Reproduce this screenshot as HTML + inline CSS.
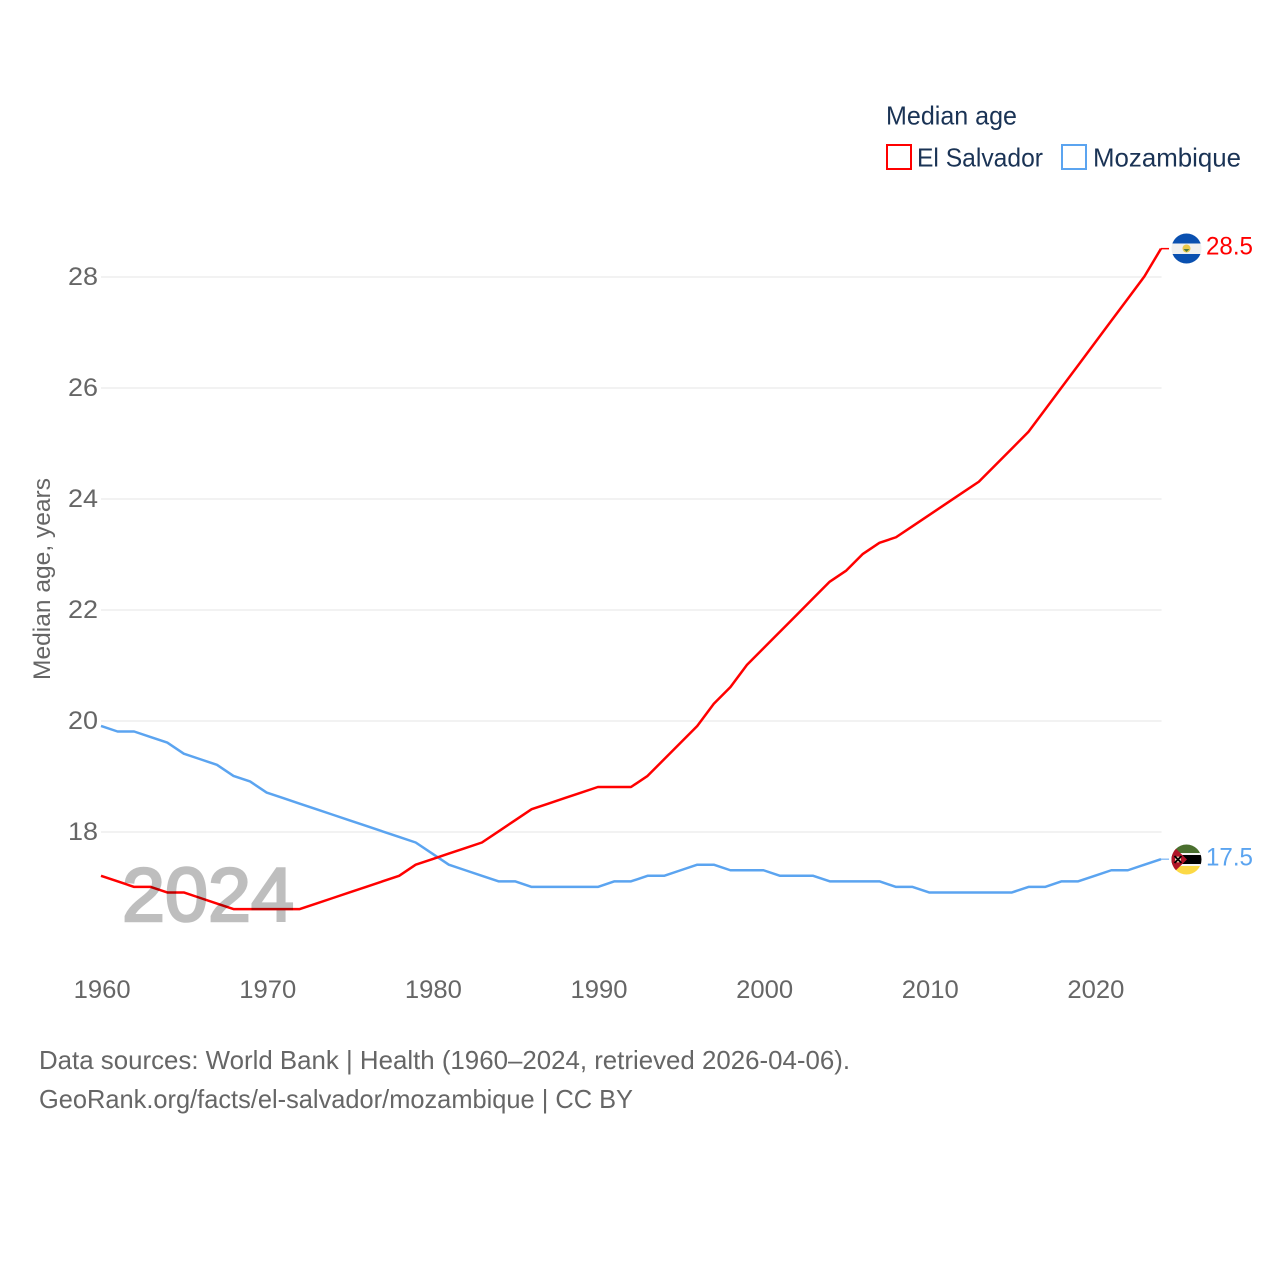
<!DOCTYPE html>
<html lang="en">
<head>
<meta charset="utf-8">
<title>Median age: El Salvador and Mozambique</title>
<style>
html,body{margin:0;padding:0;background:#fff;width:1280px;height:1280px;overflow:hidden}
svg{display:block;font-family:"Liberation Sans",sans-serif}
</style>
</head>
<body>
<svg id="chart" xmlns="http://www.w3.org/2000/svg" width="1280" height="1280" viewBox="0 0 1280 1280">
  <defs>
    <clipPath id="clip-sv"><circle cx="1186.5" cy="248.5" r="15"/></clipPath>
    <clipPath id="clip-mz"><circle cx="1186.5" cy="859.5" r="15"/></clipPath>
  </defs>
  <rect width="1280" height="1280" fill="#fff"/>

  <g id="grid"></g>
  <g id="y-labels"></g>
  <g id="x-labels"></g>
  <text transform="translate(50,680) rotate(-90)" font-size="24" fill="#666" textLength="202" lengthAdjust="spacingAndGlyphs">Median age, years</text>

  <g id="series" transform="translate(0,-0.6)"></g>

  <text id="year-watermark" x="122" y="921" font-size="76" fill="#000" stroke="#000" stroke-width="2.6" opacity="0.25" textLength="172" lengthAdjust="spacingAndGlyphs">2024</text>

  <g>
    <text x="886" y="124.5" font-size="26" fill="#1a3355" textLength="131" lengthAdjust="spacingAndGlyphs">Median age</text>
    <g>
      <rect x="887" y="145" width="24" height="24" fill="none" stroke="#ff0000" stroke-width="2"/>
      <text x="917" y="166.5" font-size="26" fill="#1a3355" textLength="126" lengthAdjust="spacingAndGlyphs">El Salvador</text>
    </g>
    <g>
      <rect x="1062" y="145" width="24" height="24" fill="none" stroke="#5ba4f0" stroke-width="2"/>
      <text x="1093" y="166.5" font-size="26" fill="#1a3355" textLength="148" lengthAdjust="spacingAndGlyphs">Mozambique</text>
    </g>
  </g>

  <g clip-path="url(#clip-sv)">
    <rect x="1171" y="233" width="31" height="31" fill="#f0f0f0"/>
    <rect x="1171" y="233" width="31" height="10.5" fill="#0a50b0"/>
    <rect x="1171" y="254" width="31" height="10.5" fill="#0a50b0"/>
    <circle cx="1186.5" cy="248.5" r="4" fill="#e8c84a"/>
    <path d="M1183.5 249h6l-3 3z" fill="#4f7a3a"/>
  </g>

  <g clip-path="url(#clip-mz)">
    <rect x="1171" y="844" width="31" height="10" fill="#4a6f2e"/>
    <rect x="1171" y="854" width="31" height="11" fill="#000"/>
    <rect x="1171" y="853" width="31" height="2" fill="#f4f4f4"/>
    <rect x="1171" y="864" width="31" height="2" fill="#f4f4f4"/>
    <rect x="1171" y="866" width="31" height="9" fill="#fcd945"/>
    <path d="M1171 844L1187 859.5L1171 875z" fill="#b01528"/>
    <circle cx="1178" cy="859.5" r="3" fill="#f4e8c0"/>
    <path d="M1174.5 856l7 7M1181.5 856l-7 7" stroke="#000" stroke-width="1.8"/>
  </g>

  <text id="end-label-sv" x="1206" y="254.5" font-size="25" fill="#ff0000" textLength="47" lengthAdjust="spacingAndGlyphs"></text>
  <text id="end-label-mz" x="1206" y="865.5" font-size="25" fill="#5ba4f0" textLength="47" lengthAdjust="spacingAndGlyphs"></text>

  <g>
    <text x="39" y="1069" font-size="26" fill="#666" textLength="811" lengthAdjust="spacingAndGlyphs">Data sources: World Bank | Health (1960–2024, retrieved 2026-04-06).</text>
    <text x="39" y="1108" font-size="26" fill="#666" textLength="594" lengthAdjust="spacingAndGlyphs">GeoRank.org/facts/el-salvador/mozambique | CC BY</text>
  </g>
</svg>
<script>
const startYear = 1960;
const elSalvador = [17.2,17.1,17.0,17.0,16.9,16.9,16.8,16.7,16.6,16.6,16.6,16.6,16.6,16.7,16.8,16.9,17.0,17.1,17.2,17.4,
  17.5,17.6,17.7,17.8,18.0,18.2,18.4,18.5,18.6,18.7,18.8,18.8,18.8,19.0,19.3,19.6,19.9,20.3,20.6,21.0,
  21.3,21.6,21.9,22.2,22.5,22.7,23.0,23.2,23.3,23.5,23.7,23.9,24.1,24.3,24.6,24.9,25.2,25.6,26.0,26.4,
  26.8,27.2,27.6,28.0,28.5];
const mozambique = [19.9,19.8,19.8,19.7,19.6,19.4,19.3,19.2,19.0,18.9,18.7,18.6,18.5,18.4,18.3,18.2,18.1,18.0,17.9,17.8,
  17.6,17.4,17.3,17.2,17.1,17.1,17.0,17.0,17.0,17.0,17.0,17.1,17.1,17.2,17.2,17.3,17.4,17.4,17.3,17.3,
  17.3,17.2,17.2,17.2,17.1,17.1,17.1,17.1,17.0,17.0,16.9,16.9,16.9,16.9,16.9,16.9,17.0,17.0,17.1,17.1,
  17.2,17.3,17.3,17.4,17.5];
const yTicks = [18,20,22,24,26,28];
const xTicks = [1960,1970,1980,1990,2000,2010,2020];

const SVG_NS = 'http://www.w3.org/2000/svg';
function xScale(year){ return 101 + (year - 1960) * (1161 - 101) / 64; }
function yScale(v){ return 832 - (v - 18) * 55.5; }
function make(tag, parent, attrs){
  const el = document.createElementNS(SVG_NS, tag);
  for (const k in attrs) el.setAttribute(k, attrs[k]);
  parent.appendChild(el);
  return el;
}

const grid = document.getElementById('grid');
const yLabels = document.getElementById('y-labels');
yTicks.forEach(function(t){
  const line = make('line', grid, {x1:101, x2:1161.5, y1:yScale(t), y2:yScale(t), stroke:'#eeeeee', 'stroke-width':1.5});
  
  
  const label = make('text', yLabels, {x:98, y:yScale(t)+8, 'text-anchor':'end', 'font-size':25, fill:'#666', textLength:30, lengthAdjust:'spacingAndGlyphs'});
  
  
  label.textContent = t;
});

const xLabels = document.getElementById('x-labels');
xTicks.forEach(function(t){
  const label = make('text', xLabels, {x:xScale(t)+1.2, y:998, 'text-anchor':'middle', 'font-size':25, fill:'#666', textLength:57, lengthAdjust:'spacingAndGlyphs'});
  
  
  label.textContent = t;
});

function linePoints(values){
  return values.map(function(v, i){
    return xScale(startYear + i).toFixed(2) + ',' + yScale(v).toFixed(2);
  }).join(' ');
}
const series = document.getElementById('series');

function lastX(values){ return xScale(startYear + values.length - 1); }
function lastY(values){ return yScale(values[values.length - 1]); }

const mzLine = make('polyline', series, {points:linePoints(mozambique), fill:'none', stroke:'#5ba4f0', 'stroke-width':2.5, 'stroke-linejoin':'round'});


const mzLeader = make('line', series, {x1:lastX(mozambique), x2:lastX(mozambique)+8, y1:lastY(mozambique), y2:lastY(mozambique), stroke:'#5ba4f0', 'stroke-width':1});



const svLine = make('polyline', series, {points:linePoints(elSalvador), fill:'none', stroke:'#ff0000', 'stroke-width':2.5, 'stroke-linejoin':'round'});


const svLeader = make('line', series, {x1:lastX(elSalvador), x2:lastX(elSalvador)+8, y1:lastY(elSalvador), y2:lastY(elSalvador), stroke:'#ff0000', 'stroke-width':1.5});



document.getElementById('end-label-sv').textContent = elSalvador[elSalvador.length - 1].toFixed(1);
document.getElementById('end-label-mz').textContent = mozambique[mozambique.length - 1].toFixed(1);
</script>
</body>
</html>
